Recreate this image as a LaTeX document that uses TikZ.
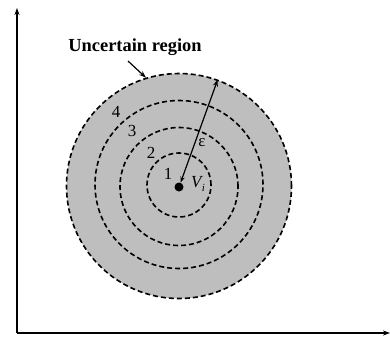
\documentclass[tikz,border=0pt]{standalone}
\usepackage{fontspec}
\setmainfont{Liberation Serif}
\usetikzlibrary{arrows.meta}
\definecolor{regiongray}{RGB}{190,190,190}
\begin{document}
\begin{tikzpicture}[x=1bp,y=-1bp,
  ring/.style={circle,draw,dash pattern=on 5bp off 3bp,line width=1.6bp,inner sep=0pt},
  axis/.style={line width=1.4bp,-{Stealth[length=7bp,width=5bp]}},
  arr/.style={line width=1.2bp,-{Stealth[length=7bp,width=5bp]}},
  num/.style={font=\fontsize{17}{17}\selectfont,inner sep=0pt}]
\useasboundingbox (0,0) rectangle (390,338);
\coordinate (o) at (17,333);
\coordinate (yend) at (17,8);
\coordinate (xend) at (390,333);
\draw[axis] (o) -- (yend);
\draw[axis] (o) -- (xend);
\node[ring,fill=regiongray,minimum size=225bp] (c4) at (179,186) {};
\node[ring,minimum size=168bp] (c3) at (179,184.5) {};
\node[ring,minimum size=118bp] (c2) at (179,186.5) {};
\node[ring,minimum size=64bp] (c1) at (179,185) {};
\node[circle,fill=black,inner sep=0pt,minimum size=9bp] (dot) at (179,187) {};
\draw[arr,{Stealth[length=6bp,width=4.5bp]}-{Stealth[length=7bp,width=5bp]}] (dot) -- (c4.70);
\node[font=\fontsize{18.5}{18.5}\selectfont\bfseries,inner sep=1bp] (lab) at (135,47) {Uncertain region};
\draw[arr] (128,61) -- (c4.107);
\node[num] (n4) at (116,112) {4};
\node[num] (n3) at (132,131) {3};
\node[num] (n2) at (151,153) {2};
\node[num] (n1) at (168,174) {1};
\node[num] (eps) at (202,143) {ε};
\node[num] (vi) at (198,184) {\itshape V\kern0.5bp\raisebox{-4bp}{\fontsize{11}{11}\selectfont\itshape i}};
\end{tikzpicture}
\end{document}
